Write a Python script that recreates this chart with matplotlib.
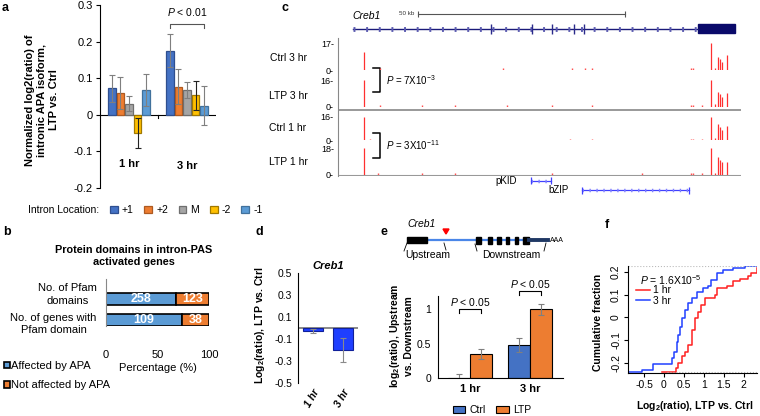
import numpy as np
import matplotlib
matplotlib.use('Agg')
import matplotlib.pyplot as plt
from matplotlib.patches import Patch, Polygon

plt.rcParams['font.family'] = ['Liberation Sans', 'DejaVu Sans']
plt.rcParams['font.size'] = 7.5
plt.rcParams['axes.linewidth'] = 0.8
plt.rcParams['mathtext.fontset'] = 'custom'
plt.rcParams['mathtext.rm'] = 'Liberation Sans'
plt.rcParams['mathtext.it'] = 'Liberation Sans:italic'
plt.rcParams['mathtext.bf'] = 'Liberation Sans:bold'

# ---- data ----
# a: intronic APA isoform changes
intron_locs = ['+1', '+2', 'M', '-2', '-1']
a_groups = ['1 hr', '3 hr']
a_mean_1hr = [0.072, 0.060, 0.030, -0.050, 0.068]
a_err_1hr = [0.036, 0.043, 0.020, 0.040, 0.043]
a_mean_3hr = [0.175, 0.077, 0.067, 0.053, 0.025]
a_err_3hr = [0.045, 0.048, 0.022, 0.040, 0.054]

# b: protein domains
b_categories = ['No. of Pfam\ndomains', 'No. of genes with\nPfam domain']
b_affected = [258, 109]
b_not_affected = [123, 38]

# d: Creb1 ratio
d_groups = ['1 hr', '3 hr']
d_mean = [-0.025, -0.20]
d_err = [0.02, 0.105]

# e: upstream vs downstream
e_groups = ['1 hr', '3 hr']
e_ctrl = [0.0, 0.48]
e_ctrl_err = [0.06, 0.10]
e_ltp = [0.35, 1.0]
e_ltp_err = [0.07, 0.08]

# f: cumulative curves
f_1hr_x = [-0.04, 0.30, 0.36, 0.44, 0.53, 0.61, 0.69, 0.78, 0.86, 0.94, 1.03, 1.27, 1.32, 1.57, 1.73, 1.90, 2.11, 2.19, 2.32]
f_1hr_y = [-0.241, -0.223, -0.200, -0.170, -0.150, -0.120, -0.055, -0.004, 0.025, 0.055, 0.084, 0.099, 0.128, 0.136, 0.158, 0.170, 0.180, 0.194, 0.216]
f_3hr_x = [-0.90, -0.56, -0.28, 0.21, 0.26, 0.32, 0.36, 0.40, 0.44, 0.52, 0.61, 0.69, 0.82, 0.98, 1.11, 1.19, 1.32, 1.48, 1.73, 2.03, 2.32]
f_3hr_y = [-0.241, -0.231, -0.206, -0.180, -0.150, -0.107, -0.078, -0.040, -0.004, 0.033, 0.062, 0.084, 0.110, 0.128, 0.140, 0.165, 0.194, 0.209, 0.219, 0.228, 0.230]

# c: browser tracks (positions in kb)
c_tracks = ['Ctrl 3 hr', 'LTP 3 hr', 'Ctrl 1 hr', 'LTP 1 hr']
c_track_max = [17, 16, 16, 18]
c_peak_kb = [6.3, 90.0, 91.0, 91.8, 92.3, 92.8, 94.0]
c_peak_ctrl3 = [11.3, 17, 1.5, 8.4, 7.0, 5.0, 9.4]
c_peak_ltp3 = [16, 16, 1.5, 8.6, 7.5, 6.0, 8.2]
c_peak_ctrl1 = [16, 16, 1.5, 11.0, 9.0, 7.0, 9.7]
c_peak_ltp1 = [18, 18, 1.5, 12.0, 10.0, 8.7, 8.7]
c_dots_ctrl3 = [10.1, 39.9, 56.5, 59.7, 61.4, 85.3, 85.8]
c_dots_ltp3 = [10.1, 20.3, 28.3, 40.8, 51.7, 61.4, 85.3, 85.8, 87.9]
c_dots_ctrl1 = [7.7, 56.0, 61.4, 85.3, 85.8, 88.0]
c_dots_ltp1 = [9.7, 20.3, 28.3, 51.7, 73.4, 85.3, 85.8, 88.0]
c_gene_start, c_gene_end = 3.6, 87.0
c_utr = (87.0, 95.9)
c_exons = [37.0, 46.9, 51.7, 57.0, 59.4]
c_domains = ['pKID', 'bZIP']
c_domain_start = [46.6, 58.9]
c_domain_end = [51.4, 84.8]
c_scale_start, c_scale_len = 19.3, 50

# e: Creb1 schematic (schematic units)
e_exon1 = (407, 427)
e_small_exons = [(476, 481), (488, 492), (497, 501), (506, 509), (515, 518), (523, 529)]
e_utr = (529, 548)
e_site = 446

W, H = 760, 416
fig = plt.figure(figsize=(W / 100, H / 100), dpi=100)


def px_axes(left, top, right, bottom):
    return fig.add_axes([left / W, 1 - bottom / H, (right - left) / W, (bottom - top) / H])


def ftext(x, y, s, **kw):
    return fig.text(x / W, 1 - y / H, s, **kw)


intron_colors = ['#4472C4', '#ED7D31', '#A5A5A5', '#FFC000', '#5B9BD5']
intron_edges = ['#2F4F8F', '#AE5A21', '#6F6F6F', '#A07800', '#41719C']
intron_ecol = ['#7F7F7F', '#7F7F7F', '#7F7F7F', '#222222', '#7F7F7F']

# ---------------- panel a ----------------
ax = px_axes(100, 5, 216, 188)
pitch = 0.147
handles = []
for i, loc in enumerate(intron_locs):
    xs = np.array([0.5, 1.5]) + (i - 2) * pitch
    vals = [a_mean_1hr[i], a_mean_3hr[i]]
    errs = [a_err_1hr[i], a_err_3hr[i]]
    b = ax.bar(xs, vals, width=0.135, color=intron_colors[i], edgecolor=intron_edges[i],
               linewidth=0.9, zorder=2, label=loc)
    handles.append(b)
    ax.errorbar(xs, vals, yerr=errs, fmt='none', ecolor=intron_ecol[i], elinewidth=0.8,
                capsize=2.5, capthick=0.8, zorder=3)
ax.set_xlim(0, 2)
ax.set_ylim(-0.2, 0.3)
ax.axhline(0, color='black', lw=0.8, zorder=1)
ax.plot([1, 1], [0, -0.01], color='black', lw=0.8)
for s in ['top', 'right', 'bottom']:
    ax.spines[s].set_visible(False)
ax.set_xticks([])
ax.set_yticks([-0.2, -0.1, 0, 0.1, 0.2, 0.3])
ax.set_yticklabels(['-0.2', '-0.1', '0', '0.1', '0.2', '0.3'])
ax.tick_params(axis='y', length=3, labelsize=8, pad=2)
ax.text(0.5, -0.135, a_groups[0], ha='center', va='center', fontweight='bold', fontsize=8)
ax.text(1.5, -0.14, a_groups[1], ha='center', va='center', fontweight='bold', fontsize=8)
x0, x1 = 1.5 - 2 * pitch, 1.5 + 2 * pitch
ax.plot([x0, x0, x1, x1], [0.237, 0.248, 0.248, 0.237], color='#555555', lw=0.8, clip_on=False)
ax.text(1.5, 0.28, r'$\it{P}$ < 0.01', ha='center', va='center', fontsize=7.5)
ftext(42, 100, 'Normalized log2(ratio) of\nintronic APA isoform,\nLTP vs. Ctrl', rotation=90,
      ha='center', va='center', fontweight='bold', multialignment='center', fontsize=8)
ftext(28, 210, 'Intron Location:', ha='left', va='center', fontsize=7.5)
fig.legend(handles, intron_locs, loc='center left', bbox_to_anchor=(110 / W, 1 - 210 / H),
           ncol=5, frameon=False, handlelength=0.75, handleheight=0.75, handletextpad=0.4,
           columnspacing=1.0, borderpad=0, borderaxespad=0, fontsize=7.5)

# ---------------- panel b ----------------
ax = px_axes(106, 279, 209, 326)
tot = np.array(b_affected) + np.array(b_not_affected)
pa = 100 * np.array(b_affected) / tot
pn = 100 * np.array(b_not_affected) / tot
ypos = [1, 0]
ax.barh(ypos, pa, height=0.58, color='#5B9BD5', edgecolor='black', linewidth=1.2)
ax.barh(ypos, pn, left=pa, height=0.58, color='#ED7D31', edgecolor='black', linewidth=1.2)
for y, a_, n_, va, vn in zip(ypos, pa, pn, b_affected, b_not_affected):
    ax.text(a_ / 2, y, str(va), ha='center', va='center', color='white', fontweight='bold', fontsize=9)
    ax.text(a_ + n_ / 2, y, str(vn), ha='center', va='center', color='white', fontweight='bold', fontsize=9)
ax.set_xlim(0, 100)
ax.set_ylim(-0.31, 1.96)
ax.set_yticks(ypos)
ax.set_yticklabels([])
for y, lab, dy in zip(ypos, b_categories, [0.22, -0.22]):
    ax.text(-9, y + dy, lab, ha='right', va='center', multialignment='center', fontsize=8,
            linespacing=1.3)
ax.set_xticks([0, 50, 100])
ax.tick_params(axis='x', length=0, pad=17, labelsize=8)
ax.tick_params(axis='y', length=0)
for s in ['top', 'right', 'bottom']:
    ax.spines[s].set_visible(False)
ax.spines['left'].set_color('#888888')
ftext(134, 256, 'Protein domains in intron-PAS\nactivated genes', ha='center', va='center',
      fontweight='bold', fontsize=7.8, multialignment='center')
ftext(158, 368, 'Percentage (%)', ha='center', va='center', fontsize=8)
fig.legend([Patch(facecolor='#5B9BD5', edgecolor='black', lw=1.2),
            Patch(facecolor='#ED7D31', edgecolor='black', lw=1.2)],
           ['Affected by APA', 'Not affected by APA'], loc='upper left',
           bbox_to_anchor=(4 / W, 1 - 361 / H), frameon=False, handlelength=0.5, handleheight=0.5,
           handletextpad=0.15, labelspacing=0.85, borderpad=0, borderaxespad=0, fontsize=8)

# ---------------- panel c ----------------
kb_max = 97.3
back = px_axes(338, 38, 741, 176)
back.set_xlim(0, kb_max)
back.set_ylim(176, 38)
back.set_xticks([])
back.set_yticks([])
for s in ['top', 'right', 'bottom']:
    back.spines[s].set_visible(False)
back.spines['left'].set_color('#888888')
back.axhline(110, color='#888888', lw=1.2)
back.axhline(175.5, color='#999999', lw=1.5)
for yb, yt, ptxt in [(68, 92, r'$\it{P}$ = 7X10$^{-3}$'), (133, 158, r'$\it{P}$ = 3X10$^{-11}$')]:
    back.plot([8.4, 10.1, 10.1, 8.4], [yb, yb, yt, yt], color='black', lw=1.1)
    back.text(11.5, (yb + yt) / 2, ptxt, ha='left', va='center', fontsize=7)

track_px = [(43, 70), (80, 107), (117, 140), (148, 175)]
track_peaks = [c_peak_ctrl3, c_peak_ltp3, c_peak_ctrl1, c_peak_ltp1]
track_dots = [c_dots_ctrl3, c_dots_ltp3, c_dots_ctrl1, c_dots_ltp1]
label_y = [58, 96, 128, 162]
for name, mx, (tp, bt), pk, dots, ly in zip(c_tracks, c_track_max, track_px, track_peaks, track_dots, label_y):
    t = px_axes(338, tp, 741, bt)
    t.patch.set_alpha(0)
    t.set_xlim(0, kb_max)
    t.set_ylim(0, mx)
    t.vlines(c_peak_kb, 0, pk, color='#ff3030', lw=0.9)
    t.vlines(dots, 0, mx * 0.06, color='#ff5050', lw=1.0)
    for s in t.spines.values():
        s.set_visible(False)
    t.set_xticks([])
    t.set_yticks([0, mx])
    t.set_yticklabels(['0-', f'{mx}-'], fontsize=6.5)
    t.tick_params(axis='y', length=0, pad=3)
    ftext(288, ly, name, ha='center', va='center', fontsize=7.5)

g = px_axes(338, 5, 741, 38)
g.set_xlim(0, kb_max)
g.set_ylim(0, 1)
g.axis('off')
g.plot([c_gene_start, c_gene_end], [0.27, 0.27], color='#1a1a7a', lw=1.0)
g.plot([c_gene_start, c_gene_end], [0.27, 0.27], color='#5a5ab0', lw=3.5, dashes=(0.4, 2.2))
g.add_patch(plt.Rectangle((c_utr[0], 0.14), c_utr[1] - c_utr[0], 0.28, color='#0a0a6a'))
g.vlines(c_exons, 0.12, 0.42, color='#2a2a8a', lw=1.0)
g.plot([c_scale_start, c_scale_start + c_scale_len], [0.73, 0.73], color='#555555', lw=0.8)
g.vlines([c_scale_start, c_scale_start + c_scale_len], 0.65, 0.81, color='#555555', lw=0.8)
g.text(c_scale_start - 0.8, 0.73, '50 kb', ha='right', va='center', fontsize=4.5, color='#333333')
g.text(c_gene_start, 0.68, 'Creb1', ha='left', va='center', fontsize=7.5, style='italic')

dm = px_axes(338, 174, 741, 196)
dm.set_xlim(0, kb_max)
dm.set_ylim(1.6, -0.7)
dm.axis('off')
for r, (nm, s0, s1) in enumerate(zip(c_domains, c_domain_start, c_domain_end)):
    dm.plot([s0, s1], [r, r], color='#4040ff', lw=0.9)
    dm.plot([s0, s1], [r, r], color='#8080ff', lw=2.5, dashes=(0.4, 1.6))
    dm.vlines([s0, s1], r - 0.35, r + 0.35, color='#4040ff', lw=0.9)
    dm.text(s0 - 3.3, r, nm, ha='right', va='center', fontsize=7)

# ---------------- panel d ----------------
ax = px_axes(298, 273, 358, 383)
dx = [0.5, 1.5]
ax.bar(dx, d_mean, width=0.68, color='#1f3fff', edgecolor='#10209a', linewidth=0.8, zorder=2)
ax.errorbar(dx, d_mean, yerr=d_err, fmt='none', ecolor='#8a8a8a', elinewidth=0.8, capsize=2.5,
            capthick=0.8, zorder=3)
ax.axhline(0, color='#808080', lw=1.3, zorder=1)
ax.set_xlim(0, 2)
ax.set_ylim(-0.5, 0.5)
ax.set_yticks([0.5, 0.3, 0.1, -0.1, -0.3, -0.5])
ax.set_yticklabels(['0.5', '0.3', '0.1', '-0.1', '-0.3', '-0.5'])
ax.tick_params(axis='y', length=0, labelsize=7.5, pad=4)
ax.set_xticks(dx)
ax.set_xticklabels(d_groups, rotation=60, ha='right', va='top', rotation_mode='anchor',
                   fontweight='bold', style='italic', fontsize=7.5)
ax.tick_params(axis='x', length=0, pad=3)
for s in ['top', 'right', 'bottom']:
    ax.spines[s].set_visible(False)
ax.set_title('Creb1', fontweight='bold', style='italic', fontsize=8, pad=3)
ftext(260, 325, r'Log$_\mathbf{2}$(ratio), LTP vs. Ctrl', rotation=90, ha='center', va='center',
      fontweight='bold', fontsize=7.5)

# ---------------- panel e ----------------
sch = px_axes(395, 215, 562, 265)
sch.set_xlim(395, 562)
sch.set_ylim(265, 215)
sch.axis('off')
sch.plot([e_exon1[1], e_utr[0]], [240, 240], color='#4a86e8', lw=1.6, zorder=1)
sch.add_patch(plt.Rectangle((e_exon1[0], 237), e_exon1[1] - e_exon1[0], 6, color='black', zorder=2))
for s0, s1 in e_small_exons:
    sch.add_patch(plt.Rectangle((s0, 236.5), s1 - s0, 7, color='black', zorder=2))
sch.plot([e_utr[0], e_utr[1]], [240, 240], color='#1f3864', lw=2.8, zorder=2)
sch.text(e_utr[1] + 2, 240.5, 'AAA', ha='left', va='center', fontsize=5)
sch.add_patch(Polygon([[e_site - 3, 229], [e_site + 3, 229], [e_site, 234]], color='red'))
sch.text(e_exon1[0], 224, 'Creb1', ha='left', va='center', style='italic', fontsize=7.5)
sch.plot([e_exon1[0], e_exon1[0] - 3], [243, 251], color='black', lw=0.6)
sch.plot([e_site - 2, e_site], [243, 250], color='black', lw=0.6)
sch.plot([e_small_exons[0][0] - 1, e_small_exons[0][0] + 1], [244, 251], color='black', lw=0.6)
sch.plot([e_utr[1] - 2, e_utr[1] - 4], [243, 251], color='black', lw=0.6)
sch.text(428, 255, 'Upstream', ha='center', va='center', fontsize=7.5)
sch.text(511, 255, 'Downstream', ha='center', va='center', fontsize=7.5)

ax = px_axes(438, 296, 563, 378)
ex = np.arange(len(e_groups))
bw = 0.36
ax.bar(ex - bw / 2, e_ctrl, width=bw, color='#4472C4', edgecolor='black', lw=0.8, label='Ctrl', zorder=2)
ax.bar(ex + bw / 2, e_ltp, width=bw, color='#ED7D31', edgecolor='black', lw=0.8, label='LTP', zorder=2)
ax.errorbar(ex - bw / 2, e_ctrl, yerr=e_ctrl_err, fmt='none', ecolor='#7f7f7f', elinewidth=0.8,
            capsize=2.5, capthick=0.8, zorder=3)
ax.errorbar(ex + bw / 2, e_ltp, yerr=e_ltp_err, fmt='none', ecolor='#7f7f7f', elinewidth=0.8,
            capsize=2.5, capthick=0.8, zorder=3)
ax.set_xlim(-0.533, 1.55)
ax.set_ylim(0, 1.19)
ax.set_yticks([0, 0.5, 1])
ax.set_yticklabels(['0', '0.5', '1'])
ax.tick_params(axis='y', length=0, labelsize=7.5, pad=5)
ax.set_xticks(ex)
ax.set_xticklabels(e_groups, fontweight='bold', fontsize=8)
ax.tick_params(axis='x', length=0, pad=4)
for s in ['top', 'right']:
    ax.spines[s].set_visible(False)
for gx, yb, yt, ty in [(0, 0.94, 1.0, 1.1), (1, 1.2, 1.26, 1.36)]:
    l, r = gx - bw / 2, gx + bw / 2
    ax.plot([l, l, r, r], [yb, yt, yt, yb], color='black', lw=0.8, clip_on=False)
    ax.text(gx, ty, r'$\it{P}$ < 0.05', ha='center', va='center', fontsize=7.5)
ftext(401, 336, 'log$_\\mathbf{2}$(ratio), Upstream\nvs. Downstream', rotation=90, ha='center',
      va='center', fontweight='bold', fontsize=7.5, multialignment='center')
fig.legend(*ax.get_legend_handles_labels(), loc='center', bbox_to_anchor=(492 / W, 1 - 410 / H),
           ncol=2, frameon=False, handlelength=1.2, handleheight=0.7, handletextpad=0.4,
           columnspacing=1.0, borderpad=0, borderaxespad=0, fontsize=7.5)

# ---------------- panel f ----------------
ax = px_axes(628, 266, 757, 373)
ax.step(f_1hr_x, f_1hr_y, where='post', color='#ff2020', lw=1.1, label='1 hr')
ax.step(f_3hr_x, f_3hr_y, where='post', color='#2040ff', lw=1.1, label='3 hr')
ax.set_xlim(-0.9, 2.33)
ax.set_ylim(-0.244, 0.226)
ax.axhline(0.226, color='#bbbbbb', lw=0.8, ls=':')
ax.axhline(-0.238, xmin=0.3, color='#bbbbbb', lw=0.8, ls=':')
for s in ['top', 'right']:
    ax.spines[s].set_visible(False)
ax.set_xticks([-0.5, 0, 0.5, 1, 1.5, 2])
ax.set_xticklabels(['-0.5', '0', '0.5', '1', '1.5', '2'])
ax.set_yticks([-0.2, -0.1, 0, 0.1, 0.2])
ax.set_yticklabels(['-0.2', '-0.1', '0', '0.1', '0.2'], rotation=90, va='center')
ax.tick_params(length=3, labelsize=7.5, pad=2)
ax.text(0.09, 0.87, r'$\it{P}$ = 1.6X10$^{-5}$', transform=ax.transAxes, ha='left', va='center', fontsize=7.5)
ax.legend(loc='upper left', bbox_to_anchor=(0.06, 0.82), frameon=False, handlelength=1.4,
          handletextpad=0.3, labelspacing=0.05, borderpad=0, borderaxespad=0, fontsize=7.5)
ftext(598, 322, 'Cumulative fraction', rotation=90, ha='center', va='center', fontweight='bold', fontsize=7.5)
ftext(695, 406, r'Log$_\mathbf{2}$(ratio), LTP vs. Ctrl', ha='center', va='center', fontweight='bold', fontsize=7.5)

# panel letters
for lab, x, y in [('a', 2, 8), ('b', 3, 232), ('c', 282, 8), ('d', 255, 232), ('e', 381, 232), ('f', 605, 225)]:
    ftext(x, y, lab, ha='left', va='center', fontweight='bold', fontsize=9)

fig.savefig('out.png', dpi=100)
